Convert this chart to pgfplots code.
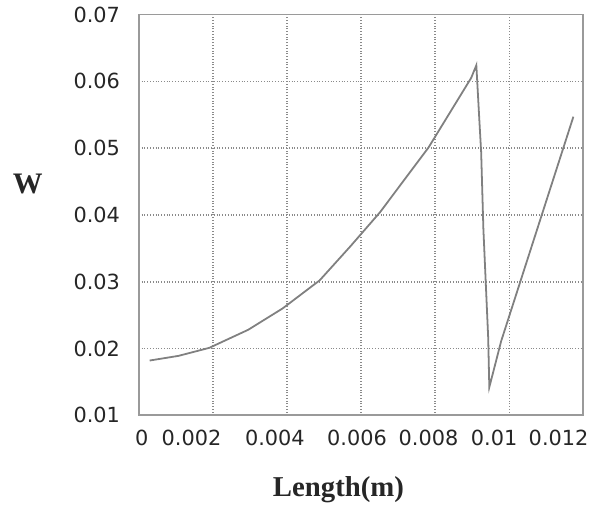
\documentclass[border=0pt]{standalone}
\usepackage{fontspec}
\setmainfont{Liberation Serif}
\newfontfamily\tickfont{DejaVu Sans}
\usepackage{pgfplots}
\pgfplotsset{compat=1.18}
\definecolor{gridgray}{HTML}{8A8A8A}
\definecolor{boxgray}{HTML}{9A9A9A}
\definecolor{curvegray}{HTML}{808080}

\begin{document}
\begin{tikzpicture}[x=1pt,y=1pt]
\begin{axis}[
    scale only axis,
    width=224pt,
    height=202pt,
    xmin=0, xmax=0.012,
    ymin=0.01, ymax=0.07,
    xtick={0,0.002,0.004,0.006,0.008,0.01,0.012},
    xticklabels={},
    extra x ticks={0.00008,0.00142,0.00367,0.00589,0.00782,0.00959,0.01133},
    extra x tick labels={0,0.002,0.004,0.006,0.008,0.01,0.012},
    extra x tick style={grid=none, major tick length=0pt},
    ytick={0.01,0.02,0.03,0.04,0.05,0.06,0.07},
    scaled ticks=false,
    yticklabel style={/pgf/number format/fixed,/pgf/number format/fixed zerofill,/pgf/number format/precision=2},
    /pgf/number format/assume math mode=true,
    tick label style={font=\tickfont\fontsize{10.5}{12}\selectfont, text=black!85},
    major tick length=0pt,
    xtick pos=bottom, ytick pos=left,
    xticklabel shift=4pt,
    yticklabel shift=6pt,
    xmajorgrids=true, ymajorgrids=true,
    grid style={gridgray, densely dotted, line width=0.8pt},
    axis line style={boxgray, line width=0.9pt},
    clip=false,
]
\addplot[curvegray, line width=0.9pt] coordinates {
(0.00029,0.0182) (0.00107,0.0189) (0.0019,0.0201) (0.00295,0.0228)
(0.00388,0.0260) (0.00488,0.0302) (0.00571,0.0353) (0.00651,0.0404)
(0.00782,0.0501) (0.00897,0.0605) (0.00911,0.0624)
(0.00919,0.0543) (0.00924,0.0494) (0.0093,0.0379) (0.00943,0.0216)
(0.00946,0.0142) (0.00978,0.0211) (0.01173,0.0547)
};
\coordinate (bl) at (rel axis cs:-0.3125,-0.2327);
\coordinate (tr) at (rel axis cs:1.0156,1.0347);
\node[font=\bfseries\fontsize{14.5}{16}\selectfont, text=black!85] at (rel axis cs:0.449,-0.185) {Length(m)};
\node[font=\bfseries\fontsize{15}{16}\selectfont, text=black!85] at (rel axis cs:-0.25,0.577) {W};
\end{axis}
\path (bl) rectangle (tr);
\end{tikzpicture}
\end{document}
